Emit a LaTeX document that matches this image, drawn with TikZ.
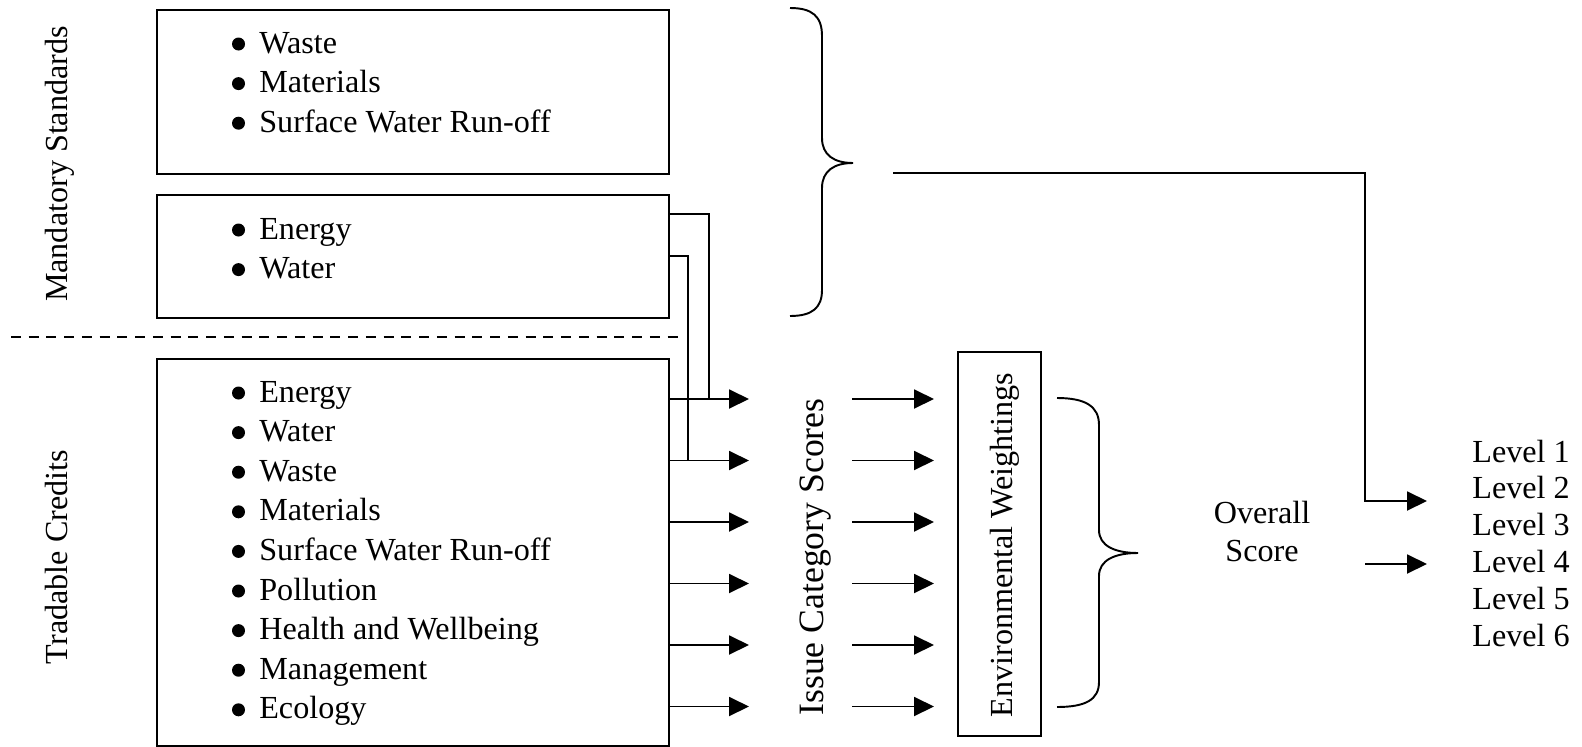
\documentclass[tikz,border=0pt]{standalone}
\usepackage{fontspec}
\setmainfont{Liberation Serif}
\usetikzlibrary{arrows.meta}

\newcommand{\bulletdot}[1]{\fill ([xshift=-0.41cm,yshift=0.18cm]#1.base west) circle (0.13cm);}

\begin{document}
\begin{tikzpicture}[x=0.02cm,y=-0.02cm]
    \pgfmathsetmacro{\r}{39.6}	%row step in the boxes
    \pgfmathsetmacro{\a}{61.5}	%row step of the arrows
    \tikzset{
        txt/.style={inner sep=0pt, font=\fontsize{18.3}{22}\selectfont},
        item/.style={txt, anchor=base west},
        side/.style={txt, anchor=base, rotate=90},
        frame/.style={draw, line width=1.1pt, inner sep=0pt, anchor=north west},
        link/.style={line width=1.1pt},
        arr/.style={link, -{Triangle[length=0.4cm,width=0.38cm]}}
    };
    \useasboundingbox (0,0) rectangle (1582,747);
    % boxes
    \node[frame, minimum width=10.24cm, minimum height=3.28cm] (ms1) at (156,9) {};
    \node[frame, minimum width=10.24cm, minimum height=2.46cm] (ms2) at (156,194) {};
    \node[frame, minimum width=10.24cm, minimum height=7.74cm] (tc) at (156,358) {};
    \node[frame, minimum width=1.66cm, minimum height=7.68cm] (ew) at (957,351) {};
    % lists
    \foreach \t [count=\i from 0] in {Waste,Materials,Surface Water Run-off}{
        \node[item] (ms1-\i) at (259,53+\i*\r) {\t};
        \bulletdot{ms1-\i}
    }
    \foreach \t [count=\i from 0] in {Energy,Water}{
        \node[item] (ms2-\i) at (259,239+\i*\r) {\t};
        \bulletdot{ms2-\i}
    }
    \foreach \t [count=\i from 0] in {Energy,Water,Waste,Materials,Surface Water Run-off,Pollution,Health and Wellbeing,Management,Ecology}{
        \node[item] (tc-\i) at (259,402+\i*\r) {\t};
        \bulletdot{tc-\i}
    }
    % side labels
    \node[side] (msl) at (67,164) {Mandatory Standards};
    \node[side] (tcl) at (67,557) {Tradable Credits};
    \node[side, font=\fontsize{20.3}{24}\selectfont] (ics) at (823,557) {Issue Category Scores};
    \node[side] (ewl) at (1012,545) {Environmental Weightings};
    \draw[link, dash pattern=on 0.2cm off 0.155cm] (11,337) -- (685,337);
    % arrows to the scores and weightings
    \foreach \i in {0,...,5}{
        \coordinate (c\i) at (749,399+\i*\a);
        \coordinate (s\i) at (852,399+\i*\a);
        \coordinate (e\i) at (934,399+\i*\a);
        \draw[arr] (tc.east |- c\i) -- (c\i);
        \draw[arr] (s\i) -- (e\i);
    }
    \draw[link] (ms2.east |- 0,214) -| (c0 -| 709,0);
    \draw[link] (ms2.east |- 0,256) -| (c1 -| 688,0);
    % braces
    \draw[link] (790,8) .. controls (812,8) and (822,16) .. (822,36) -- (822,138)
        .. controls (822,155) and (834,163) .. (853,163)
        .. controls (834,163) and (822,171) .. (822,188) -- (822,290)
        .. controls (822,308) and (812,316) .. (790,316);
    \draw[link] (1057,398) .. controls (1085,398) and (1099,406) .. (1099,425) -- (1099,530)
        .. controls (1099,546) and (1115,553) .. (1138,553)
        .. controls (1115,553) and (1099,560) .. (1099,576) -- (1099,682)
        .. controls (1099,700) and (1085,707) .. (1057,707);
    % overall score and levels
    \node[txt, anchor=base] (ov) at (1262,523) {Overall};
    \node[txt, anchor=base] (sc) at (1262,561) {Score};
    \foreach \i in {1,...,6}
        \node[item] (lv\i) at (1472,{462+(\i-1)*36.8}) {Level \i};
    \coordinate (msout) at (893,173);
    \coordinate (in2) at (1427,501);
    \coordinate (os) at (1365,564);
    \coordinate (in4) at (1427,564);
    \draw[arr] (msout) -| (in2 -| os) -- (in2);
    \draw[arr] (os) -- (in4);
\end{tikzpicture}
\end{document}
